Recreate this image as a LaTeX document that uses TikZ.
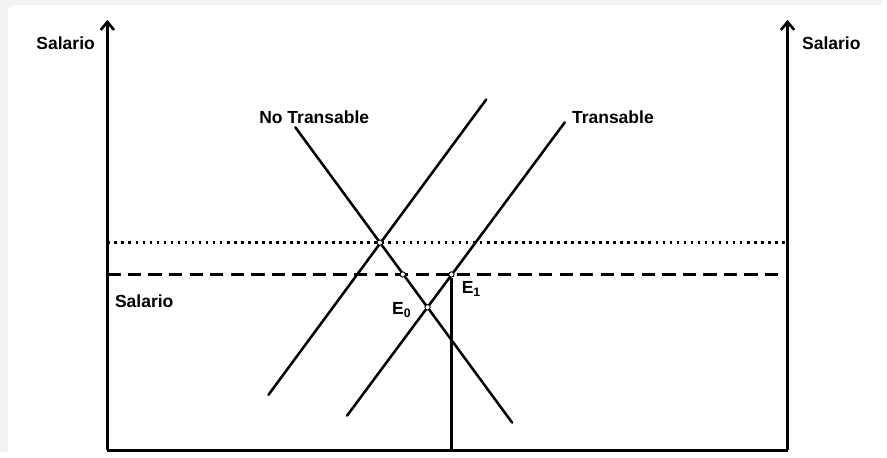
\documentclass[tikz,border=0pt]{standalone}
\usepackage{fontspec}
\setmainfont{Liberation Sans}
\usetikzlibrary{arrows.meta,positioning}

\begin{document}
\begin{tikzpicture}[x=0.75pt,y=-0.75pt,
  lab/.style={font=\fontsize{13.2}{15}\selectfont\bfseries,inner sep=0pt},
  axis/.style={line width=2pt,-{Straight Barb[length=6pt,width=10pt]}},
  curve/.style={line width=1.9pt,line cap=round},
  spot/.style={circle,draw,fill=white,line width=0.7pt,inner sep=0pt,minimum size=4pt}]
% frame
\fill[black!5] (0,0) rectangle (887,455);
\fill[white,rounded corners=6pt] (8,5) rectangle (892,460);
\useasboundingbox (0,0) rectangle (887,455);
% axes
\coordinate (o) at (108,453);
\coordinate (r) at (792,453);
\coordinate (ytop) at (108,20);
\coordinate (rtop) at (792,20);
\draw[axis] (o) -- (ytop);
\draw[axis] (r) -- (rtop);
\draw[line width=2pt] (o) -- (r);
\node[lab] (yl) at (66,43) {Salario};
\node[lab] (yr) at (836,43) {Salario};
% wage lines
\draw[line width=2pt,dash pattern=on 2pt off 3.3pt] (108,244) coordinate (dl) -- (792,244) coordinate (dr);
\draw[line width=1.9pt,dash pattern=on 10pt off 5.5pt] (108,276) coordinate (wl) -- (792,276) coordinate (wr);
\node[lab] (w) at (145,303) {Salario};
% curves
\coordinate (nta) at (297,128);
\coordinate (ntb) at (515,425);
\coordinate (nsa) at (270,397);
\coordinate (nsb) at (489,100);
\coordinate (ta) at (349,418);
\coordinate (tb) at (568,123);
\draw[curve] (nta) -- (ntb);
\draw[curve] (nsa) -- (nsb);
\draw[curve] (ta) -- (tb);
\node[lab] (ntl) at (316,118) {No Transable};
\node[lab,anchor=west] (tl) at (575,118) {Transable};
% equilibria
\node[spot] (e1) at (454,276) {};
\node[spot] (e0) at (430,309) {};
\node[spot] (a) at (382,244) {};
\node[spot] (b) at (405,276) {};
\draw[line width=1.9pt] (e1) -- (e1 |- o);
\node[lab] (e1l) at (474,291) {E\textsubscript{1}};
\node[lab] (e0l) at (404,312) {E\textsubscript{0}};
\end{tikzpicture}
\end{document}
